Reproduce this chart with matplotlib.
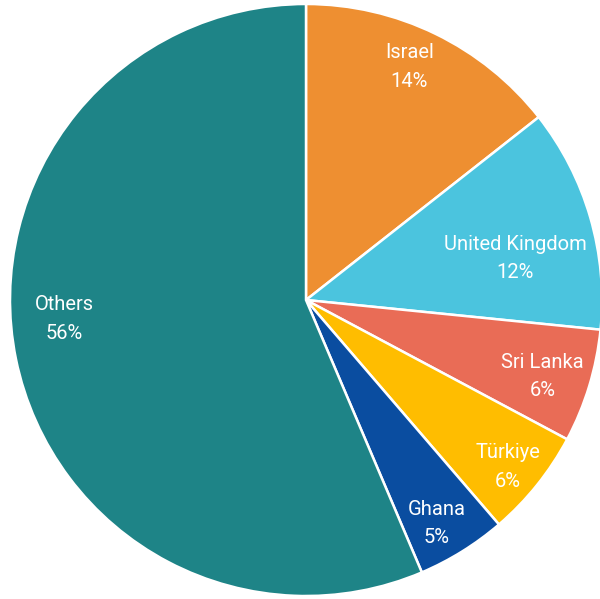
import numpy as np
import matplotlib
matplotlib.use("Agg")
import matplotlib.pyplot as plt

# Share by country, clockwise from 12 o'clock
countries = ["Israel", "United Kingdom", "Sri Lanka", "Türkiye", "Ghana", "Others"]
shares = [14.4, 12.2, 6.2, 5.9, 4.9, 56.4]
colors = ["#EE8F31", "#4BC4DE", "#E96C56", "#FFBD00", "#0A4DA0", "#1E8487"]

# label placement: fraction of radius and angle shift (degrees) per wedge
label_r = [0.86, 0.72, 0.84, 0.885, 0.875, 0.82]
label_shift = [-2, 5, 1, 1, 1.5, 7]

plt.rcParams["font.family"] = ["Liberation Sans Narrow", "Roboto", "DejaVu Sans"]

fig = plt.figure(figsize=(6.0, 5.99), dpi=100)
ax = fig.add_axes([0, 0, 1, 1])

R = 296.0
cx, cy = 306.0, 300.0
wedges, _ = ax.pie(shares, colors=colors, startangle=90, counterclock=False,
                   radius=1.0, wedgeprops=dict(edgecolor="white", linewidth=1.8))

for w, name, val, rf, sh in zip(wedges, countries, shares, label_r, label_shift):
    mid = (w.theta1 + w.theta2) / 2.0 - sh
    x = rf * np.cos(np.radians(mid))
    y = rf * np.sin(np.radians(mid))
    ax.text(x, y, f"{name}\n{val:.0f}%", ha="center", va="center", color="white",
            fontsize=14.5, linespacing=1.65)

ax.set_xlim(-cx / R, (600 - cx) / R)
ax.set_ylim(-(599 - cy) / R, cy / R)
ax.set_aspect("equal")
ax.axis("off")

fig.savefig("out.png", dpi=100)
